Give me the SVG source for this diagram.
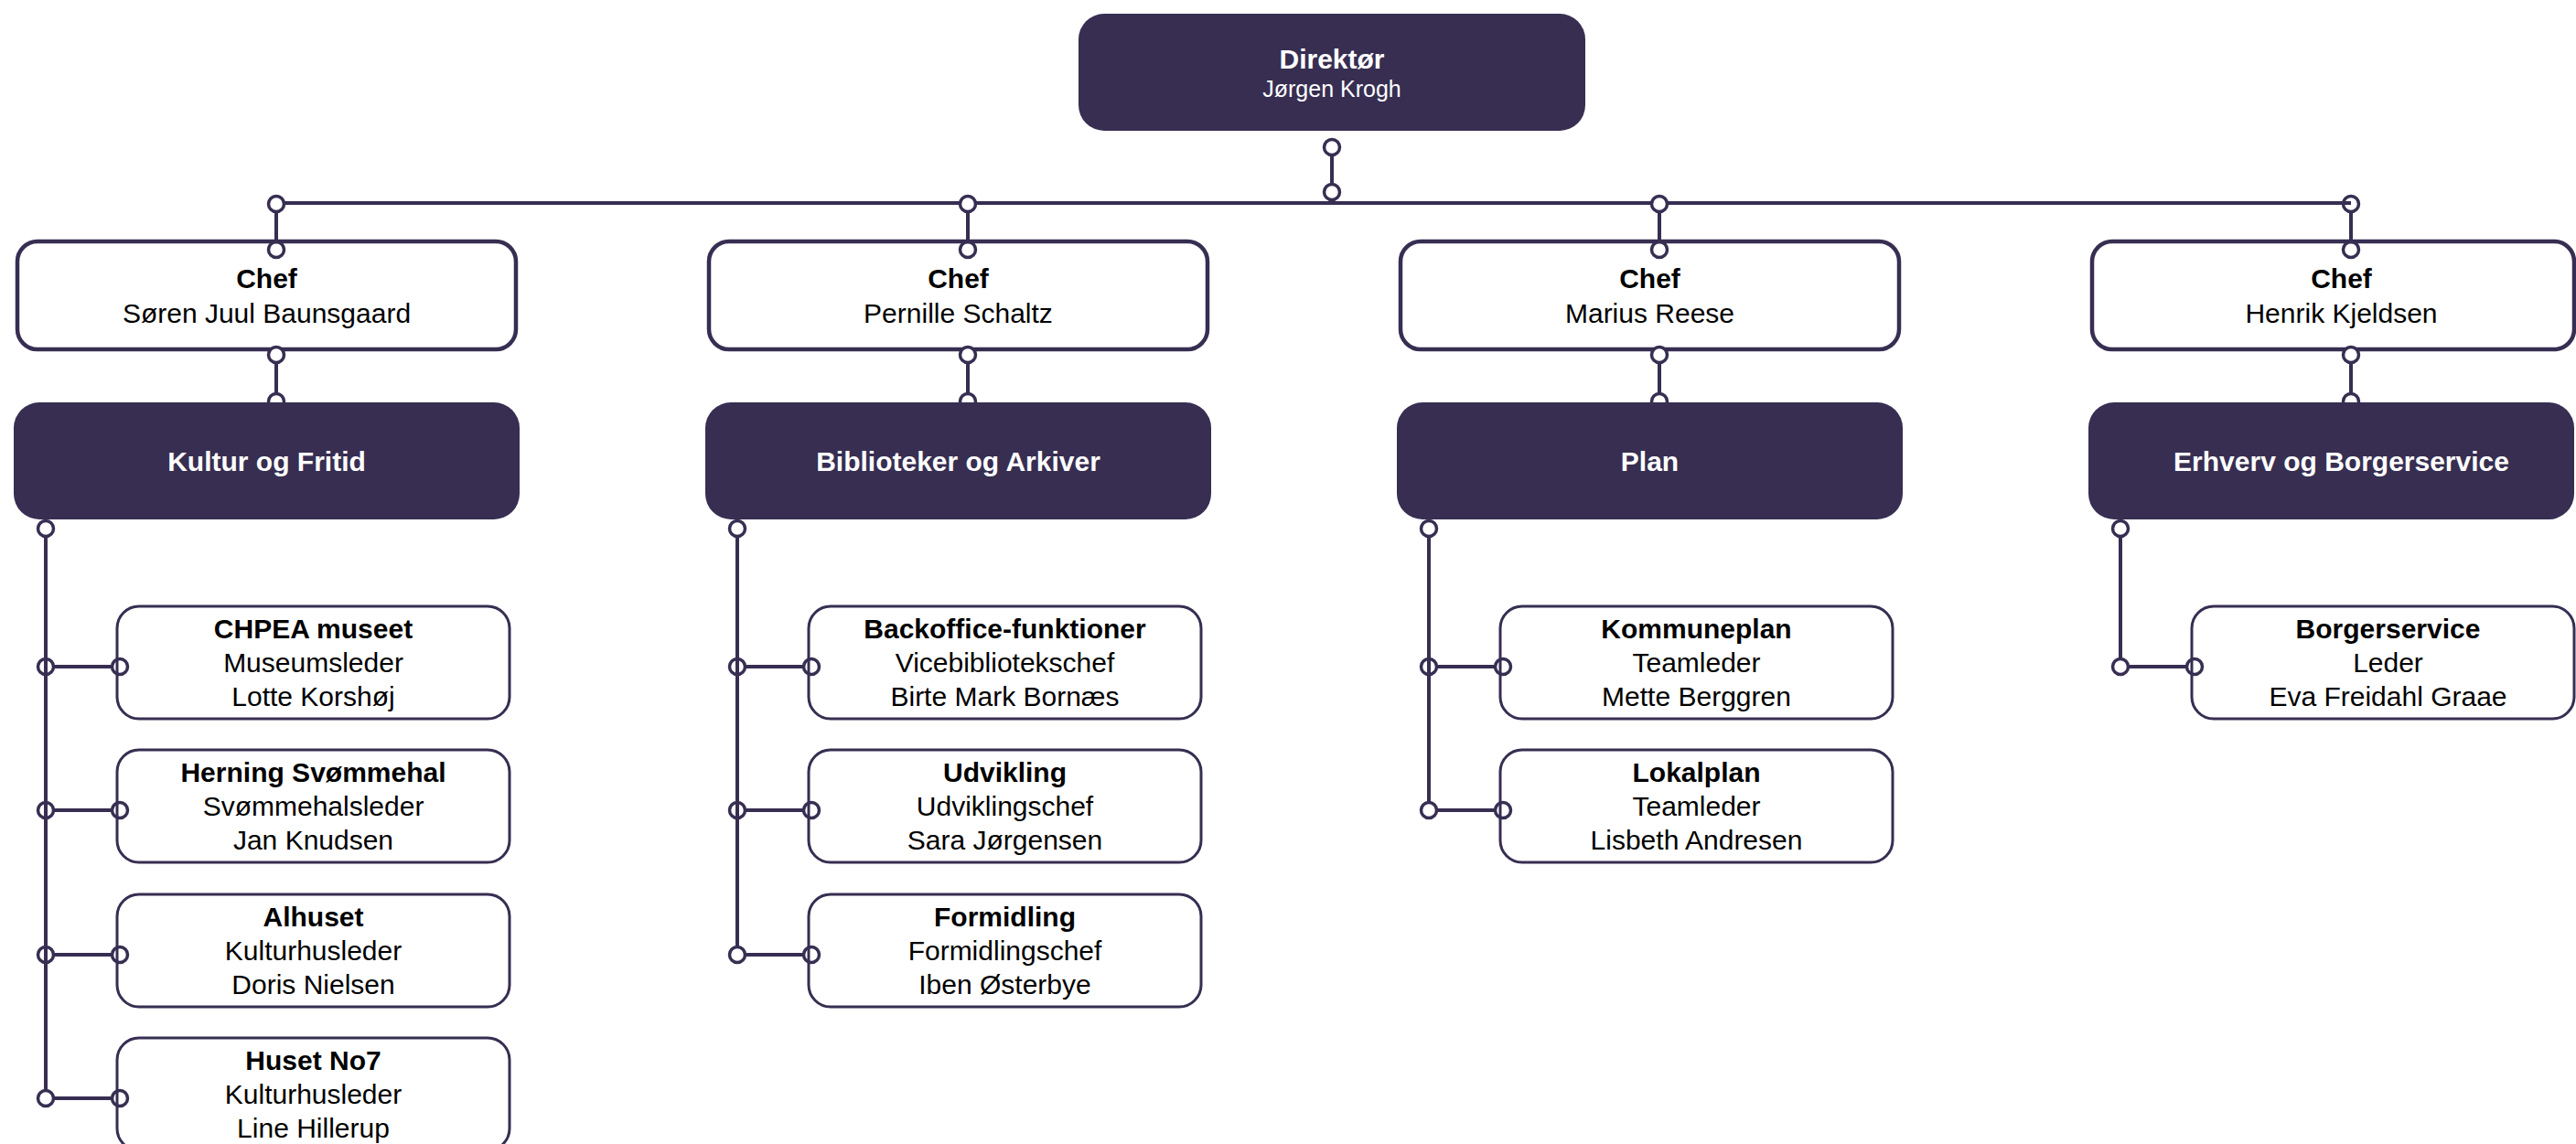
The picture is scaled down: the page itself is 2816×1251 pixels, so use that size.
<svg xmlns="http://www.w3.org/2000/svg" width="2816" height="1251" viewBox="0 0 2816 1251">
<style>
.t{font-family:"Liberation Sans",Arial,sans-serif;font-size:30px;text-anchor:middle;fill:#000}
.b{font-weight:bold}
.w{fill:#fff}
.chef{fill:#fff;stroke:#372e52;stroke-width:4.5}
.leaf{fill:#fff;stroke:#372e52;stroke-width:3}
.dark{fill:#372e52;stroke:none}
.ln{stroke:#372e52;stroke-width:4;fill:none}
.bus{stroke:#372e52;stroke-width:4;fill:none}
.c{stroke:#372e52;stroke-width:3.5;fill:none}
.cw{stroke:#372e52;stroke-width:3.5;fill:#fff}
</style>
<rect width="2816" height="1251" fill="#fff"/>

<!-- white chef boxes -->
<g id="chef1"><rect class="chef" x="19" y="264" width="545" height="118" rx="22"/><text class="t b" x="291.5" y="315">Chef</text><text class="t" x="291.5" y="353">Søren Juul Baunsgaard</text></g>
<g id="chef2"><rect class="chef" x="775" y="264" width="545" height="118" rx="22"/><text class="t b" x="1047.5" y="315">Chef</text><text class="t" x="1047.5" y="353">Pernille Schaltz</text></g>
<g id="chef3"><rect class="chef" x="1531" y="264" width="545" height="118" rx="22"/><text class="t b" x="1803.5" y="315">Chef</text><text class="t" x="1803.5" y="353">Marius Reese</text></g>
<g id="chef4"><rect class="chef" x="2287" y="264" width="527" height="118" rx="22"/><text class="t b" x="2559.5" y="315">Chef</text><text class="t" x="2559.5" y="353">Henrik Kjeldsen</text></g>

<!-- leaf boxes column 1 -->
<g id="chpea"><rect class="leaf" x="128" y="663" width="429" height="123" rx="24"/><text class="t b" x="342.5" y="698">CHPEA museet</text><text class="t" x="342.5" y="735">Museumsleder</text><text class="t" x="342.5" y="772">Lotte Korshøj</text></g>
<g id="svommehal"><rect class="leaf" x="128" y="820" width="429" height="123" rx="24"/><text class="t b" x="342.5" y="855">Herning Svømmehal</text><text class="t" x="342.5" y="892">Svømmehalsleder</text><text class="t" x="342.5" y="929">Jan Knudsen</text></g>
<g id="alhuset"><rect class="leaf" x="128" y="978" width="429" height="123" rx="24"/><text class="t b" x="342.5" y="1013">Alhuset</text><text class="t" x="342.5" y="1050">Kulturhusleder</text><text class="t" x="342.5" y="1087">Doris Nielsen</text></g>
<g id="husetno7"><rect class="leaf" x="128" y="1135" width="429" height="123" rx="24"/><text class="t b" x="342.5" y="1170">Huset No7</text><text class="t" x="342.5" y="1207">Kulturhusleder</text><text class="t" x="342.5" y="1244">Line Hillerup</text></g>

<!-- leaf boxes column 2 -->
<g id="backoffice"><rect class="leaf" x="884" y="663" width="429" height="123" rx="24"/><text class="t b" x="1098.5" y="698">Backoffice-funktioner</text><text class="t" x="1098.5" y="735">Vicebibliotekschef</text><text class="t" x="1098.5" y="772">Birte Mark Bornæs</text></g>
<g id="udvikling"><rect class="leaf" x="884" y="820" width="429" height="123" rx="24"/><text class="t b" x="1098.5" y="855">Udvikling</text><text class="t" x="1098.5" y="892">Udviklingschef</text><text class="t" x="1098.5" y="929">Sara Jørgensen</text></g>
<g id="formidling"><rect class="leaf" x="884" y="978" width="429" height="123" rx="24"/><text class="t b" x="1098.5" y="1013">Formidling</text><text class="t" x="1098.5" y="1050">Formidlingschef</text><text class="t" x="1098.5" y="1087">Iben Østerbye</text></g>

<!-- leaf boxes column 3 -->
<g id="kommuneplan"><rect class="leaf" x="1640" y="663" width="429" height="123" rx="24"/><text class="t b" x="1854.5" y="698">Kommuneplan</text><text class="t" x="1854.5" y="735">Teamleder</text><text class="t" x="1854.5" y="772">Mette Berggren</text></g>
<g id="lokalplan"><rect class="leaf" x="1640" y="820" width="429" height="123" rx="24"/><text class="t b" x="1854.5" y="855">Lokalplan</text><text class="t" x="1854.5" y="892">Teamleder</text><text class="t" x="1854.5" y="929">Lisbeth Andresen</text></g>

<!-- leaf box column 4 -->
<g id="borgerservice"><rect class="leaf" x="2396" y="663" width="418" height="123" rx="24"/><text class="t b" x="2610.5" y="698">Borgerservice</text><text class="t" x="2610.5" y="735">Leder</text><text class="t" x="2610.5" y="772">Eva Freidahl Graae</text></g>

<!-- connectors -->
<g id="connectors">
  <circle class="cw" cx="1456" cy="161" r="8.5"/>
  <line class="ln" x1="1456" y1="169" x2="1456" y2="202"/>
  <circle class="cw" cx="1456" cy="210" r="8.5"/>
  <line class="bus" x1="310" y1="222" x2="2570" y2="222"/>
  <g>
    <circle class="cw" cx="302" cy="223" r="8.5"/><line class="ln" x1="302" y1="231" x2="302" y2="265"/><circle class="c" cx="302" cy="273" r="8.5"/>
    <circle class="cw" cx="302" cy="388" r="8.5"/><line class="ln" x1="302" y1="396" x2="302" y2="431"/><circle class="cw" cx="302" cy="439" r="8.5"/>
  </g>
  <g>
    <circle class="cw" cx="1058" cy="223" r="8.5"/><line class="ln" x1="1058" y1="231" x2="1058" y2="265"/><circle class="c" cx="1058" cy="273" r="8.5"/>
    <circle class="cw" cx="1058" cy="388" r="8.5"/><line class="ln" x1="1058" y1="396" x2="1058" y2="431"/><circle class="cw" cx="1058" cy="439" r="8.5"/>
  </g>
  <g>
    <circle class="cw" cx="1814" cy="223" r="8.5"/><line class="ln" x1="1814" y1="231" x2="1814" y2="265"/><circle class="c" cx="1814" cy="273" r="8.5"/>
    <circle class="cw" cx="1814" cy="388" r="8.5"/><line class="ln" x1="1814" y1="396" x2="1814" y2="431"/><circle class="cw" cx="1814" cy="439" r="8.5"/>
  </g>
  <g>
    <circle class="cw" cx="2570" cy="223" r="8.5"/><line class="bus" x1="2560" y1="222" x2="2570" y2="222"/><line class="ln" x1="2570" y1="231" x2="2570" y2="265"/><circle class="c" cx="2570" cy="273" r="8.5"/>
    <circle class="cw" cx="2570" cy="388" r="8.5"/><line class="ln" x1="2570" y1="396" x2="2570" y2="431"/><circle class="cw" cx="2570" cy="439" r="8.5"/>
  </g>
  <g>
    <circle class="c" cx="50" cy="578" r="8.5"/>
    <circle class="c" cx="50" cy="729" r="8.5"/><circle class="c" cx="50" cy="886" r="8.5"/><circle class="c" cx="50" cy="1044" r="8.5"/><circle class="c" cx="50" cy="1201" r="8.5"/>
    <line class="ln" x1="50" y1="586" x2="50" y2="1193"/>
    <line class="ln" x1="58" y1="729" x2="123" y2="729"/><circle class="c" cx="131" cy="729" r="8.5"/>
    <line class="ln" x1="58" y1="886" x2="123" y2="886"/><circle class="c" cx="131" cy="886" r="8.5"/>
    <line class="ln" x1="58" y1="1044" x2="123" y2="1044"/><circle class="c" cx="131" cy="1044" r="8.5"/>
    <line class="ln" x1="58" y1="1201" x2="123" y2="1201"/><circle class="c" cx="131" cy="1201" r="8.5"/>
  </g>
  <g>
    <circle class="c" cx="806" cy="578" r="8.5"/>
    <circle class="c" cx="806" cy="729" r="8.5"/><circle class="c" cx="806" cy="886" r="8.5"/><circle class="c" cx="806" cy="1044" r="8.5"/>
    <line class="ln" x1="806" y1="586" x2="806" y2="1036"/>
    <line class="ln" x1="814" y1="729" x2="879" y2="729"/><circle class="c" cx="887" cy="729" r="8.5"/>
    <line class="ln" x1="814" y1="886" x2="879" y2="886"/><circle class="c" cx="887" cy="886" r="8.5"/>
    <line class="ln" x1="814" y1="1044" x2="879" y2="1044"/><circle class="c" cx="887" cy="1044" r="8.5"/>
  </g>
  <g>
    <circle class="c" cx="1562" cy="578" r="8.5"/>
    <circle class="c" cx="1562" cy="729" r="8.5"/><circle class="c" cx="1562" cy="886" r="8.5"/>
    <line class="ln" x1="1562" y1="586" x2="1562" y2="878"/>
    <line class="ln" x1="1570" y1="729" x2="1635" y2="729"/><circle class="c" cx="1643" cy="729" r="8.5"/>
    <line class="ln" x1="1570" y1="886" x2="1635" y2="886"/><circle class="c" cx="1643" cy="886" r="8.5"/>
  </g>
  <g>
    <circle class="c" cx="2318" cy="578" r="8.5"/>
    <circle class="c" cx="2318" cy="729" r="8.5"/>
    <line class="ln" x1="2318" y1="586" x2="2318" y2="721"/>
    <line class="ln" x1="2326" y1="729" x2="2391" y2="729"/><circle class="c" cx="2399" cy="729" r="8.5"/>
  </g>
</g>

<!-- dark nodes -->
<g id="direktor"><rect class="dark" x="1179" y="15" width="554" height="128" rx="28"/><text class="t b w" x="1456" y="75">Direktør</text><text class="t w" x="1456" y="106" style="font-size:25px">Jørgen Krogh</text></g>
<g id="kultur"><rect class="dark" x="15" y="440" width="553" height="128" rx="28"/><text class="t b w" x="291.5" y="515">Kultur og Fritid</text></g>
<g id="biblioteker"><rect class="dark" x="771" y="440" width="553" height="128" rx="28"/><text class="t b w" x="1047.5" y="515">Biblioteker og Arkiver</text></g>
<g id="plan"><rect class="dark" x="1527" y="440" width="553" height="128" rx="28"/><text class="t b w" x="1803.5" y="515">Plan</text></g>
<g id="erhverv"><rect class="dark" x="2283" y="440" width="531" height="128" rx="28"/><text class="t b w" x="2559.5" y="515">Erhverv og Borgerservice</text></g>
</svg>
